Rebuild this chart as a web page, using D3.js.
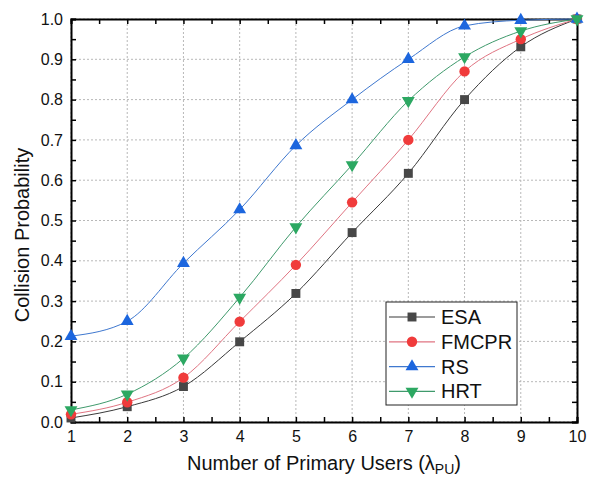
<!DOCTYPE html>
<html>
<head>
<meta charset="utf-8">
<script src="https://cdn.jsdelivr.net/npm/d3@7"></script>
<style>
  body { margin: 0; background: #fff; }
  svg { font-family: "Liberation Sans", Arial, sans-serif; }
</style>
</head>
<body>
<svg id="chart"></svg>
<script>
// ===============================
// Data
// ===============================
const xValues = [1, 2, 3, 4, 5, 6, 7, 8, 9, 10];
const esa   = [0.01, 0.038, 0.088, 0.199, 0.319, 0.47, 0.617, 0.80, 0.931, 1.0];
const fmcpr = [0.019, 0.049, 0.11, 0.249, 0.39, 0.545, 0.70, 0.87, 0.95, 1.0];
const rs    = [0.213, 0.25, 0.394, 0.527, 0.686, 0.80, 0.90, 0.983, 0.997, 1.0];
const hrt   = [0.03, 0.069, 0.158, 0.309, 0.484, 0.638, 0.797, 0.906, 0.97, 1.0];
const seriesNames = ["ESA", "FMCPR", "RS", "HRT"];
const xTicks = [1, 2, 3, 4, 5, 6, 7, 8, 9, 10];
const yTicks = [0, 0.1, 0.2, 0.3, 0.4, 0.5, 0.6, 0.7, 0.8, 0.9, 1.0];

const series = [
    { name: "ESA",   values: esa,   marker: "square",   fill: "#474747", line: "#3a3a3a" },
    { name: "FMCPR", values: fmcpr, marker: "circle",   fill: "#f03b3b", line: "#e07482" },
    { name: "RS",    values: rs,    marker: "triangle", fill: "#1c66de", line: "#3f78cf" },
    { name: "HRT",   values: hrt,   marker: "triangleDown", fill: "#2ca862", line: "#3f9a6c" }
];

// ===============================
// Setup
// ===============================
const width = 591,
      height = 480,
      margin = { top: 19, right: 14, bottom: 58, left: 71 };

const svg = d3.select("#chart")
    .attr("width", width)
    .attr("height", height);

const x = d3.scaleLinear()
    .domain([1, 10])
    .range([margin.left, width - margin.right]);

const y = d3.scaleLinear()
    .domain([0, 1])
    .range([height - margin.bottom, margin.top]);

// Grid
svg.append("g")
    .selectAll("line")
    .data(xTicks)
    .enter()
    .append("line")
    .attr("x1", d => x(d)).attr("x2", d => x(d))
    .attr("y1", y(0)).attr("y2", y(1))
    .attr("stroke", "#b8b8b8")
    .attr("stroke-dasharray", "2,2")
    .attr("stroke-width", 1);

svg.append("g")
    .selectAll("line")
    .data(yTicks)
    .enter()
    .append("line")
    .attr("x1", x(1)).attr("x2", x(10))
    .attr("y1", d => y(d)).attr("y2", d => y(d))
    .attr("stroke", "#b8b8b8")
    .attr("stroke-dasharray", "2,2")
    .attr("stroke-width", 1);

// ===============================
// Axes (ticks inward on all sides)
// ===============================
const xMinor = d3.range(1, 10.01, 0.5);
const yMinor = d3.range(0, 1.001, 0.05);

svg.append("g")
    .attr("transform", `translate(0, ${y(0)})`)
    .call(d3.axisBottom(x).tickValues(xMinor).tickSize(-5).tickPadding(9)
        .tickFormat(d => Number.isInteger(d) ? d : ""));

svg.append("g")
    .attr("transform", `translate(0, ${y(1)})`)
    .call(d3.axisTop(x).tickValues(xMinor).tickSize(-5).tickFormat(""));

svg.append("g")
    .attr("transform", `translate(${x(1)}, 0)`)
    .call(d3.axisLeft(y).tickValues(yMinor).tickSize(-5).tickPadding(8)
        .tickFormat(d => Math.abs(d * 10 - Math.round(d * 10)) < 1e-6 ? d3.format(".1f")(d) : ""));

svg.append("g")
    .attr("transform", `translate(${x(10)}, 0)`)
    .call(d3.axisRight(y).tickValues(yMinor).tickSize(-5).tickFormat(""));

svg.selectAll(".domain")
    .attr("stroke", "#000")
    .attr("stroke-width", 2);
svg.selectAll(".tick line")
    .attr("stroke", "#000")
    .attr("stroke-width", 1.5);
svg.selectAll(".tick text")
    .attr("font-size", 16)
    .attr("fill", "#111");

// ===============================
// Lines and markers
// ===============================
const line = d3.line()
    .x((d, i) => x(xValues[i]))
    .y(d => y(d))
    .curve(d3.curveMonotoneX);

const symbolType = {
    square: d3.symbolSquare,
    circle: d3.symbolCircle,
    triangle: d3.symbolTriangle,
    triangleDown: d3.symbolTriangle
};
const symbolSize = { square: 80, circle: 85, triangle: 72, triangleDown: 72 };

function drawMarker(g, s, cx, cy) {
    g.append("path")
        .attr("d", d3.symbol().type(symbolType[s.marker]).size(symbolSize[s.marker])())
        .attr("transform", `translate(${cx},${cy})` + (s.marker === "triangleDown" ? " rotate(180)" : ""))
        .attr("fill", s.fill);
}

series.forEach(s => {
    svg.append("path")
        .datum(s.values)
        .attr("fill", "none")
        .attr("stroke", s.line)
        .attr("stroke-width", 1)
        .attr("d", line);
});

series.forEach(s => {
    const g = svg.append("g");
    s.values.forEach((v, i) => drawMarker(g, s, x(xValues[i]), y(v)));
});

// ===============================
// Legend
// ===============================
const legend = svg.append("g");
legend.append("rect")
    .attr("x", 386).attr("y", 302)
    .attr("width", 131).attr("height", 103)
    .attr("fill", "#fff")
    .attr("stroke", "#222")
    .attr("stroke-width", 1);

series.forEach((s, i) => {
    const ly = 317 + i * 24.8;
    legend.append("line")
        .attr("x1", 389).attr("x2", 435)
        .attr("y1", ly).attr("y2", ly)
        .attr("stroke", s.line)
        .attr("stroke-width", 1.2);
    drawMarker(legend, s, 412, ly);
    legend.append("text")
        .attr("x", 441).attr("y", ly + 7)
        .attr("font-size", 20)
        .attr("fill", "#111")
        .text(seriesNames[i]);
});

// ===============================
// Axis titles
// ===============================
const xTitle = svg.append("text")
    .attr("x", 324).attr("y", 470)
    .attr("text-anchor", "middle")
    .attr("font-size", 20)
    .attr("fill", "#111");
xTitle.append("tspan").text("Number of Primary Users (λ");
xTitle.append("tspan").attr("font-size", 14).attr("dy", 4).text("PU");
xTitle.append("tspan").attr("dy", -4).text(")");

svg.append("text")
    .attr("transform", "translate(29, 235) rotate(-90)")
    .attr("text-anchor", "middle")
    .attr("font-size", 20)
    .attr("fill", "#111")
    .text("Collision Probability");
</script>
</body>
</html>
